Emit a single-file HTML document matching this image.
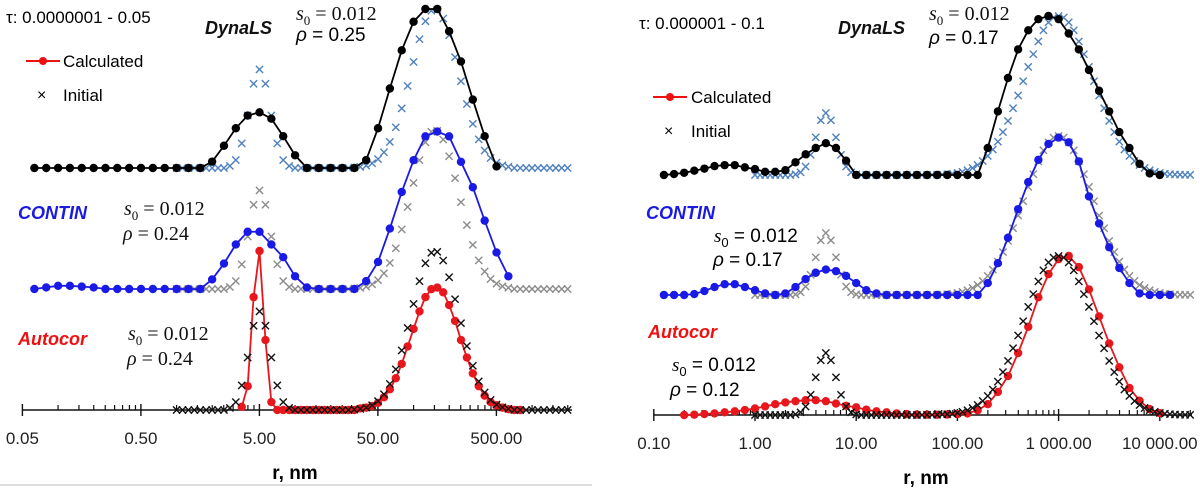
<!DOCTYPE html>
<html><head><meta charset="utf-8"><style>
html,body{margin:0;padding:0;background:#fff;}
svg text{font-family:"Liberation Sans",sans-serif;}
.sv{font-family:"Liberation Serif",serif;font-size:20px;fill:#111;}
.lbl{font-size:18px;font-weight:bold;font-style:italic;}
.tick{font-size:17px;fill:#222;}
</style></head><body>
<svg id="chart" width="1200" height="487" viewBox="0 0 1200 487" xmlns="http://www.w3.org/2000/svg">
<line x1="0" y1="485" x2="592" y2="485" stroke="#ddd" stroke-width="2"/>
<g>
<text x="6" y="23" font-size="17">τ: 0.0000001 - 0.05</text>
<line x1="26" y1="61" x2="60" y2="61" stroke="#e11" stroke-width="2"/>
<circle cx="43" cy="61" r="4" fill="#e11"/>
<text x="63" y="67" font-size="17">Calculated</text>
<text x="37" y="100" font-size="16">×</text>
<text x="63" y="101" font-size="17">Initial</text>
<text x="205" y="34" class="lbl" fill="#111">DynaLS</text>
<text x="296" y="20" class="sv"><tspan font-style="italic">s</tspan><tspan font-size="13" dy="5">0</tspan><tspan dy="-5"> = 0.012</tspan></text>
<text x="296" y="41" font-size="19"><tspan font-style="italic">ρ</tspan> = 0.25</text>
<text x="18" y="219" class="lbl" fill="#1a1ae0">CONTIN</text>
<text x="124" y="215" class="sv"><tspan font-style="italic">s</tspan><tspan font-size="13" dy="5">0</tspan><tspan dy="-5"> = 0.012</tspan></text>
<text x="123" y="240" class="sv"><tspan font-style="italic">ρ</tspan> = 0.24</text>
<text x="18" y="345" class="lbl" fill="#e11">Autocor</text>
<text x="128" y="340" class="sv"><tspan font-style="italic">s</tspan><tspan font-size="13" dy="5">0</tspan><tspan dy="-5"> = 0.012</tspan></text>
<text x="127" y="365" class="sv"><tspan font-style="italic">ρ</tspan> = 0.24</text>
<text x="295" y="479" font-size="19" font-weight="bold" text-anchor="middle">r, nm</text>
</g>
<g>
<text x="639" y="29" font-size="17">τ: 0.000001 - 0.1</text>
<line x1="653" y1="97" x2="687" y2="97" stroke="#e11" stroke-width="2"/>
<circle cx="670" cy="97" r="4" fill="#e11"/>
<text x="691" y="103" font-size="17">Calculated</text>
<text x="664" y="136" font-size="16">×</text>
<text x="691" y="137" font-size="17">Initial</text>
<text x="838" y="34" class="lbl" fill="#111">DynaLS</text>
<text x="929" y="20" class="sv"><tspan font-style="italic">s</tspan><tspan font-size="13" dy="5">0</tspan><tspan dy="-5"> = 0.012</tspan></text>
<text x="929" y="44" font-size="19"><tspan font-style="italic">ρ</tspan> = 0.17</text>
<text x="646" y="219" class="lbl" fill="#1a1ae0">CONTIN</text>
<text x="714" y="242" font-size="19"><tspan font-style="italic" font-family="Liberation Serif">s</tspan><tspan font-size="13" dy="5">0</tspan><tspan dy="-5"> = 0.012</tspan></text>
<text x="713" y="266" font-size="19"><tspan font-style="italic">ρ</tspan> = 0.17</text>
<text x="648" y="338" class="lbl" fill="#e11">Autocor</text>
<text x="672" y="371" font-size="19"><tspan font-style="italic" font-family="Liberation Serif">s</tspan><tspan font-size="13" dy="5">0</tspan><tspan dy="-5"> = 0.012</tspan></text>
<text x="670" y="396" font-size="19"><tspan font-style="italic">ρ</tspan> = 0.12</text>
<text x="926" y="484" font-size="19" font-weight="bold" text-anchor="middle">r, nm</text>
</g>
<g id="plot"></g>
</svg>
<script>
// ---- LEFT panel data (log10 r grids: start + step) ----
const leftTickLabels = ["0.05","0.50","5.00","50.00","500.00"];
const leftTickLogs = [-1.301,-0.301,0.699,1.699,2.699];
const leftInitStart = 0.0, leftInitStep = 0.05;
const leftInitial = [0,0,0,0,0,0,0,0,0,0.013,0.05,0.155,0.33,0.53,0.62,0.53,0.33,0.155,0.05,0.013,0,0,0,0,0,0,0,0,0,0,0.003,0.007,0.015,0.03,0.056,0.099,0.164,0.256,0.375,0.516,0.667,0.81,0.923,0.989,0.995,0.94,0.835,0.697,0.546,0.402,0.278,0.18,0.11,0.063,0.034,0.017,0.008,0,0,0,0,0,0,0,0,0,0];
const leftDynStart = -1.2, leftCalcStep = 0.1;
const leftDynals = [0,0,0,0,0,0,0,0,0,0,0,0,0,0,0,0.04,0.14,0.25,0.33,0.35,0.31,0.2,0.08,0,0,0,0,0,0.05,0.25,0.5,0.74,0.92,1,1,0.86,0.67,0.43,0.2,0.01];
const leftContinStart = -1.2;
const leftContin = [0,0.01,0.02,0.02,0.015,0.01,0,0,0,0,0,0,0,0,0,0.06,0.16,0.28,0.36,0.36,0.28,0.2,0.08,0.01,0,0,0,0,0.05,0.17,0.38,0.61,0.81,0.96,0.99,0.96,0.8,0.64,0.43,0.23,0.08];
const leftAutoStart = 0.55, leftAutoStep = 0.05;
const leftAutocor = [0.02,0.15,0.71,1.0,0.44,0.05,0,0,0,0,0,0,0,0,0,0,0,0,0,0,0.01,0.015,0.025,0.045,0.08,0.13,0.2,0.29,0.4,0.51,0.62,0.71,0.76,0.77,0.74,0.66,0.56,0.44,0.33,0.23,0.15,0.09,0.05,0.03,0.015,0.005,0,0];
// ---- RIGHT panel data ----
const rightTickLabels = ["0.10","1.00","10.00","100.00","1 000.00","10 000.00"];
const rightTickLogs = [-1,0,1,2,3,4];
const rightInitStart = 0.0, rightInitStep = 0.05;
const rightInitial = [0,0,0,0,0,0,0,0,0.004,0.017,0.053,0.127,0.237,0.344,0.39,0.344,0.237,0.127,0.053,0.017,0.004,0,0,0,0,0,0,0,0,0,0,0,0,0,0.0007,0.001,0.002,0.003,0.005,0.008,0.013,0.02,0.03,0.044,0.063,0.088,0.12,0.16,0.21,0.27,0.34,0.42,0.5,0.59,0.68,0.76,0.84,0.91,0.96,0.99,1,0.99,0.96,0.91,0.84,0.76,0.68,0.59,0.5,0.42,0.34,0.27,0.21,0.16,0.12,0.088,0.063,0.044,0.03,0.02,0.013,0.008,0.005,0.003,0.002,0.001,0.0007];
const rightDynStart = -0.9, rightCalcStep = 0.1;
const rightDynals = [0,0.006,0.014,0.027,0.04,0.056,0.062,0.062,0.048,0.037,0.02,0.02,0.03,0.08,0.13,0.17,0.2,0.17,0.09,0,0,0,0,0,0,0,0,0,0,0,0,0,0.17,0.4,0.61,0.79,0.91,0.98,1,0.98,0.89,0.79,0.66,0.53,0.4,0.27,0.17,0.07,0.01,0];
const rightContinStart = -0.9;
const rightContin = [0,0,0,0.006,0.025,0.05,0.068,0.068,0.05,0.03,0.01,0,0.01,0.05,0.1,0.14,0.16,0.15,0.12,0.075,0.03,0.01,0,0,0,0,0,0,0,0,0,0,0.075,0.2,0.36,0.54,0.71,0.85,0.95,0.99,0.96,0.84,0.62,0.45,0.3,0.17,0.075,0.01,0,0,0];
const rightAutoStart = -0.7;
const rightAutocor = [0,0.002,0.006,0.01,0.017,0.023,0.031,0.041,0.054,0.068,0.079,0.087,0.093,0.093,0.087,0.072,0.058,0.048,0.033,0.023,0.017,0.01,0.006,0.003,0.002,0.002,0.003,0.005,0.01,0.03,0.068,0.145,0.245,0.39,0.555,0.74,0.886,0.98,1.0,0.93,0.79,0.62,0.45,0.3,0.17,0.09,0.037,0.012];

const NS="http://www.w3.org/2000/svg";
const plot=document.getElementById('plot');
function mk(tag,attrs,parent){const e=document.createElementNS(NS,tag);for(const k in attrs)e.setAttribute(k,attrs[k]);(parent||plot).appendChild(e);return e;}
const xL=l=>22.4+(l+1.301)*118.5;
const xR=l=>755+l*101.2;
const SC=159;

function axis(xf,y,x0,x1,majors,labels,minorBase,name){
  const g=mk('g',{});
  
  
  const ln=mk('line',{x1:x0,y1:y,x2:x1,y2:y,stroke:'#111','stroke-width':1.6},g);
  
  
  majors.forEach((m,i)=>{
    const X=xf(m);
    mk('line',{x1:X,y1:y-6,x2:X,y2:y+6,stroke:'#111','stroke-width':1.4},g);
    for(let k=2;k<10;k++){const xm=xf(m+Math.log10(k));if(xm<=x1)mk('line',{x1:xm,y1:y-5,x2:xm,y2:y,stroke:'#111','stroke-width':1.2},g);}
    const t=mk('text',{x:X,y:y+34,'text-anchor':'middle',class:'tick'},g);
    t.textContent=labels[i];
    
    
  });
}
function crosses(xf,base,start,step,vals,color,name){
  const g=mk('g',{stroke:color,'stroke-width':1.4});
  
  
  vals.forEach((v,i)=>{const X=xf(start+i*step),Y=base-v*SC,s=3.6;
    mk('path',{d:`M${X-s} ${Y-s}L${X+s} ${Y+s}M${X-s} ${Y+s}L${X+s} ${Y-s}`},g);});
}
function calc(xf,base,start,step,vals,color,name){
  const g=mk('g',{});
  
  
  const pts=vals.map((v,i)=>[xf(start+i*step),base-v*SC]);
  mk('polyline',{points:pts.map(p=>p.join(',')).join(' '),fill:'none',stroke:color,'stroke-width':1.8},g);
  pts.forEach(p=>mk('circle',{cx:p[0],cy:p[1],r:4.2,fill:color},g));
}
// Left panel
axis(xL,410,22.4,572,leftTickLogs,leftTickLabels,0,'left-x-axis');
crosses(xL,168,leftInitStart,leftInitStep,leftInitial,'#4f81bd','left-dynals-initial');
calc(xL,168,leftDynStart,leftCalcStep,leftDynals,'#000','left-dynals-calculated');
crosses(xL,289,leftInitStart,leftInitStep,leftInitial,'#8c8c8c','left-contin-initial');
calc(xL,289,leftContinStart,leftCalcStep,leftContin,'#1a1ae6','left-contin-calculated');
calc(xL,410,leftAutoStart,leftAutoStep,leftAutocor,'#e8171d','left-autocor-calculated');
crosses(xL,410,leftInitStart,leftInitStep,leftInitial,'#111','left-autocor-initial');
// Right panel
axis(xR,415,654,1192,rightTickLogs,rightTickLabels,0,'right-x-axis');
crosses(xR,175,rightInitStart,rightInitStep,rightInitial,'#4f81bd','right-dynals-initial');
calc(xR,175,rightDynStart,rightCalcStep,rightDynals,'#000','right-dynals-calculated');
crosses(xR,295,rightInitStart,rightInitStep,rightInitial,'#8c8c8c','right-contin-initial');
calc(xR,295,rightContinStart,rightCalcStep,rightContin,'#1a1ae6','right-contin-calculated');
calc(xR,415,rightAutoStart,rightCalcStep,rightAutocor,'#e8171d','right-autocor-calculated');
crosses(xR,415,rightInitStart,rightInitStep,rightInitial,'#111','right-autocor-initial');
</script>
</body></html>
